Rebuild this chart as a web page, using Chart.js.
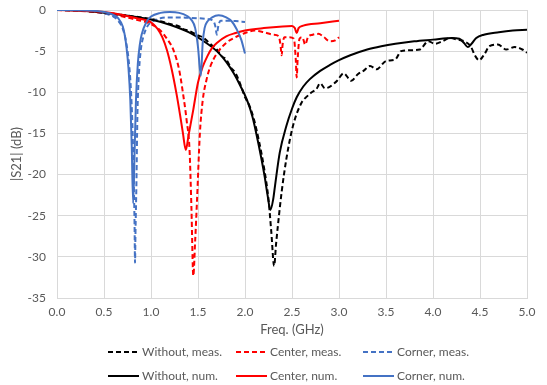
<!DOCTYPE html>
<html>
<head>
<meta charset="utf-8">
<script src="https://cdn.jsdelivr.net/npm/chart.js@4/dist/chart.umd.min.js"></script>
<style>
  html, body { margin: 0; padding: 0; background: #fff; }
</style>
</head>
<body>
<canvas id="chart" width="547" height="385"></canvas>
<script>
// |S21| (dB) vs frequency (GHz)
const fWithoutMeas = [0, 0.2, 0.4, 0.6, 0.8, 1.0, 1.1, 1.2, 1.3, 1.35, 1.4, 1.5, 1.55, 1.6, 1.65, 1.7, 1.75, 1.8, 1.85, 1.9, 1.95, 2.0, 2.05, 2.1, 2.15, 2.2, 2.25, 2.28, 2.31, 2.33, 2.35, 2.39, 2.44, 2.51, 2.6, 2.66, 2.71, 2.76, 2.8, 2.85, 2.89, 2.94, 2.98, 3.05, 3.13, 3.2, 3.26, 3.33, 3.4, 3.5, 3.6, 3.66, 3.75, 3.86, 3.95, 4.02, 4.1, 4.18, 4.26, 4.33, 4.4, 4.45, 4.49, 4.55, 4.6, 4.69, 4.78, 4.87, 4.95, 5.0];
const sWithoutMeas = [0, -0.05, -0.2, -0.45, -0.75, -1.1, -1.35, -1.7, -2.0, -2.35, -2.5, -3.1, -3.3, -3.8, -4.3, -4.8, -5.6, -6.0, -7.0, -7.7, -9.0, -10.6, -11.7, -13.5, -16.0, -19.0, -23.0, -27.0, -31.1, -28.5, -26.2, -22.1, -18.1, -14.1, -11.3, -10.5, -10.0, -9.6, -8.9, -9.5, -9.4, -9.0, -8.6, -7.7, -8.6, -7.8, -7.4, -6.8, -7.2, -6.2, -6.0, -5.0, -4.9, -4.8, -3.8, -4.1, -3.8, -3.4, -3.6, -3.8, -4.4, -5.6, -6.1, -5.3, -4.4, -4.2, -4.8, -4.5, -4.8, -5.2];

const fCenterMeas = [0, 0.3, 0.5, 0.7, 0.85, 1.0, 1.1, 1.17, 1.24, 1.3, 1.34, 1.38, 1.41, 1.43, 1.45, 1.47, 1.49, 1.52, 1.55, 1.59, 1.63, 1.7, 1.8, 1.9, 2.0, 2.1, 2.2, 2.3, 2.36, 2.38, 2.39, 2.4, 2.42, 2.47, 2.52, 2.54, 2.55, 2.56, 2.58, 2.61, 2.64, 2.67, 2.72, 2.78, 2.84, 2.9, 2.96, 3.0];
const sCenterMeas = [0, -0.15, -0.4, -0.8, -1.2, -1.7, -2.5, -3.5, -4.9, -7.3, -10.1, -13.5, -17, -24, -32.3, -28, -23, -15, -11, -8.5, -6.9, -5.3, -4.0, -3.3, -2.8, -2.5, -2.7, -3.0, -3.2, -4.5, -5.5, -4.2, -3.3, -3.3, -3.5, -6.0, -8.2, -6.0, -3.5, -3.3, -4.2, -3.3, -3.0, -2.9, -3.3, -3.8, -3.7, -3.3];

const fCornerMeas = [0, 0.2, 0.4, 0.5, 0.6, 0.65, 0.7, 0.74, 0.77, 0.79, 0.805, 0.815, 0.825, 0.83, 0.835, 0.845, 0.855, 0.87, 0.89, 0.92, 0.96, 1.0, 1.05, 1.1, 1.2, 1.3, 1.4, 1.5, 1.6, 1.66, 1.685, 1.7, 1.715, 1.74, 1.8, 1.9, 2.0];
const sCornerMeas = [0, -0.05, -0.2, -0.4, -0.8, -1.3, -2.3, -4.2, -7.0, -10.5, -15, -20, -26, -30.7, -27, -21, -13, -8, -5, -3.2, -2.0, -1.5, -1.2, -1.0, -0.9, -0.9, -0.95, -1.0, -1.1, -1.3, -2.0, -3.0, -2.0, -1.3, -1.3, -1.35, -1.45];

const fWithoutNum = [0, 0.2, 0.4, 0.6, 0.8, 1.0, 1.2, 1.4, 1.6, 1.7, 1.8, 1.88, 1.95, 2.02, 2.08, 2.12, 2.17, 2.21, 2.24, 2.27, 2.3, 2.32, 2.37, 2.44, 2.5, 2.55, 2.62, 2.69, 2.8, 2.9, 3.0, 3.12, 3.3, 3.45, 3.6, 3.8, 4.0, 4.2, 4.28, 4.33, 4.37, 4.41, 4.46, 4.54, 4.7, 4.85, 5.0];
const sWithoutNum = [0, -0.05, -0.2, -0.45, -0.8, -1.15, -1.8, -2.7, -4.1, -5.0, -6.3, -7.7, -9.2, -10.9, -13.0, -15.0, -17.8, -20.3, -22.5, -24.3, -23.0, -21.3, -17.3, -14.1, -12.0, -10.6, -9.3, -8.4, -7.4, -6.7, -6.1, -5.5, -4.8, -4.4, -4.1, -3.8, -3.6, -3.4, -3.5, -4.0, -4.5, -4.1, -3.4, -3.0, -2.7, -2.5, -2.4];

const fCenterNum = [0, 0.3, 0.5, 0.7, 0.85, 1.0, 1.07, 1.12, 1.17, 1.22, 1.27, 1.31, 1.34, 1.37, 1.4, 1.45, 1.5, 1.55, 1.6, 1.65, 1.7, 1.8, 1.9, 2.0, 2.2, 2.4, 2.5, 2.53, 2.55, 2.57, 2.62, 2.8, 3.0];
const sCenterNum = [0, -0.1, -0.25, -0.6, -1.0, -1.5, -2.3, -3.3, -4.9, -7.2, -10.1, -12.8, -15.0, -17.0, -15.2, -12.1, -8.8, -6.9, -5.6, -4.6, -4.0, -3.2, -2.8, -2.5, -2.2, -2.0, -1.95, -2.2, -2.8, -2.2, -1.9, -1.6, -1.3];

const fCornerNum = [0, 0.3, 0.5, 0.6, 0.65, 0.7, 0.72, 0.74, 0.76, 0.78, 0.795, 0.81, 0.825, 0.84, 0.86, 0.88, 0.9, 0.95, 1.0, 1.1, 1.2, 1.3, 1.38, 1.43, 1.47, 1.5, 1.53, 1.55, 1.57, 1.6, 1.65, 1.72, 1.8, 1.86, 1.91, 1.96, 2.0];
const sCornerNum = [0, -0.05, -0.25, -0.6, -1.0, -2.0, -3.0, -4.6, -7.0, -11.0, -16.5, -23.5, -17.5, -11.0, -6.5, -4.3, -3.0, -1.5, -0.8, -0.35, -0.25, -0.35, -0.7, -1.2, -2.2, -4.5, -8.0, -4.0, -2.2, -1.4, -0.9, -0.65, -0.9, -1.4, -2.3, -3.6, -5.3];

const labels = ["Without, meas.", "Center, meas.", "Corner, meas.", "Without, num.", "Center, num.", "Corner, num."];
const xTicks = [0, 0.5, 1.0, 1.5, 2.0, 2.5, 3.0, 3.5, 4.0, 4.5, 5.0];
const yTicks = [0, -5, -10, -15, -20, -25, -30, -35];

const BLACK = "#000000", RED = "#FF0000", BLUE = "#4472C4";
const TXT = "#595959", GRID = "#D9D9D9";
const FONT = "Lato, 'Open Sans', sans-serif";

const series = [
  [fWithoutMeas, sWithoutMeas, BLACK, true],
  [fCenterMeas, sCenterMeas, RED, true],
  [fCornerMeas, sCornerMeas, BLUE, true],
  [fWithoutNum, sWithoutNum, BLACK, false],
  [fCenterNum, sCenterNum, RED, false],
  [fCornerNum, sCornerNum, BLUE, false]
];

const datasets = series.map(([f, s, col, dashed], i) => ({
  label: labels[i],
  data: f.map((x, k) => ({ x, y: s[k] })),
  borderColor: col,
  borderWidth: 2,
  borderDash: dashed ? [5, 3] : [],
  pointRadius: 0,
  cubicInterpolationMode: "monotone",
  fill: false,
  order: series.length - i   // later series on top, like the original
}));

// legend: 3 columns x 2 rows under the axis title
const gridLegend = {
  id: "gridLegend",
  afterDraw(chart) {
    const ctx = chart.ctx;
    const cols = [108, 236, 363];
    ctx.save();
    ctx.font = "12px " + FONT;
    ctx.fillStyle = TXT;
    ctx.textBaseline = "middle";
    chart.data.datasets.forEach((ds, i) => {
      const x = cols[i % 3];
      const y = i < 3 ? 352 : 376;
      ctx.strokeStyle = ds.borderColor;
      ctx.lineWidth = ds.borderWidth;
      ctx.setLineDash(ds.borderDash);
      ctx.beginPath();
      ctx.moveTo(x, y);
      ctx.lineTo(x + 31, y);
      ctx.stroke();
      ctx.setLineDash([]);
      ctx.fillText(ds.label, x + 34, y);
    });
    ctx.restore();
  }
};

new Chart(document.getElementById("chart"), {
  type: "line",
  data: { datasets },
  plugins: [gridLegend],
  options: {
    responsive: false,
    animation: false,
    layout: { padding: { top: 10, right: 20, bottom: 47, left: 0 } },
    plugins: { legend: { display: false }, tooltip: { enabled: false } },
    scales: {
      x: {
        type: "linear",
        min: 0, max: 5,
        afterBuildTicks: a => { a.ticks = xTicks.map(v => ({ value: v })); },
        afterFit: s => { s.height = 40; s.paddingLeft = 0; s.paddingRight = 0; },
        ticks: { callback: v => v.toFixed(1), color: TXT, font: { family: FONT, size: 12 }, padding: 7, maxRotation: 0 },
        grid: { color: GRID, drawTicks: false },
        border: { color: GRID },
        title: { display: true, text: "Freq. (GHz)", color: TXT, font: { family: FONT, size: 13 }, padding: 0 }
      },
      y: {
        type: "linear",
        min: -35, max: 0,
        afterBuildTicks: a => { a.ticks = yTicks.map(v => ({ value: v })); },
        afterFit: s => { s.width = 57; s.paddingTop = 0; s.paddingBottom = 0; },
        ticks: { color: TXT, font: { family: FONT, size: 12 }, padding: 11 },
        grid: { color: GRID, drawTicks: false },
        border: { color: GRID },
        title: { display: true, text: "|S21| (dB)", color: TXT, font: { family: FONT, size: 13 }, padding: 9 }
      }
    }
  }
});
</script>
</body>
</html>
